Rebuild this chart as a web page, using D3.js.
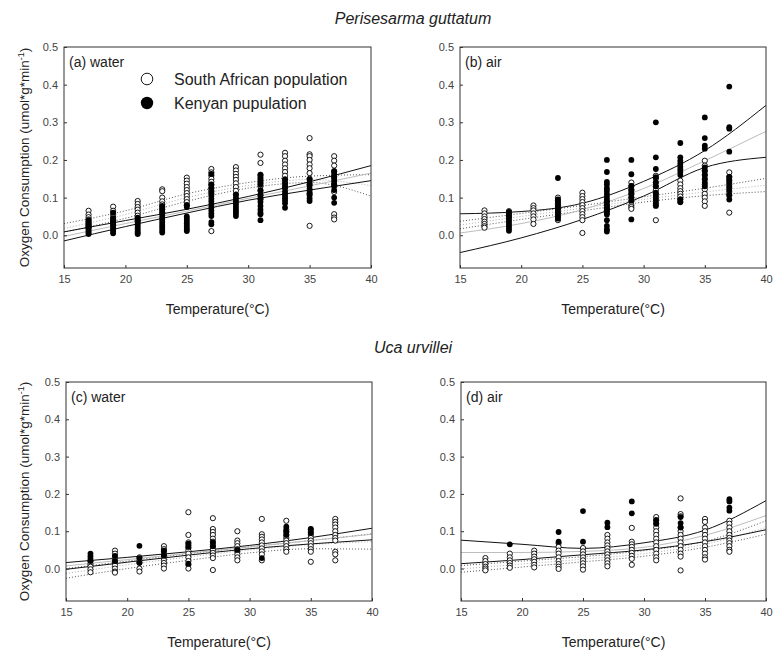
<!DOCTYPE html>
<html>
<head>
<meta charset="utf-8">
<script src="https://cdn.jsdelivr.net/npm/d3@7"></script>
<style>
  body { margin: 0; background: #fff; }
  svg { font-family: "Liberation Sans", Arial, sans-serif; }
</style>
</head>
<body>
<svg id="chart" width="773" height="658"></svg>
<script>
// temperatures where the crabs were measured
const temps = [17, 19, 21, 23, 25, 27, 29, 31, 33, 35, 37];
const xTicks = [15, 20, 25, 30, 35, 40];
const yTicks = [0, 0.1, 0.2, 0.3, 0.4, 0.5];
// x positions for the fitted lines
const lineX = [15, 20, 25, 30, 35, 40];

// (a) Perisesarma guttatum, water
const pgWaterSA = [
  [0.065, 0.055, 0.048, 0.042, 0.036, 0.03, 0.025, 0.02],
  [0.076, 0.065, 0.055, 0.048, 0.042, 0.035, 0.028],
  [0.091, 0.083, 0.075, 0.068, 0.06, 0.052, 0.045, 0.038],
  [0.122, 0.117, 0.1, 0.09, 0.082, 0.075, 0.068, 0.06],
  [0.153, 0.145, 0.137, 0.128, 0.12, 0.112, 0.104, 0.096, 0.088, 0.08],
  [0.176, 0.167, 0.158, 0.15, 0.142, 0.134, 0.126, 0.118, 0.11, 0.011],
  [0.181, 0.172, 0.163, 0.155, 0.147, 0.138, 0.128, 0.118, 0.108],
  [0.214, 0.192, 0.16, 0.15, 0.14, 0.13, 0.118, 0.105, 0.095],
  [0.219, 0.21, 0.198, 0.188, 0.178, 0.168, 0.158, 0.148, 0.138, 0.128],
  [0.258, 0.215, 0.21, 0.2, 0.188, 0.178, 0.165, 0.15, 0.135, 0.11, 0.025],
  [0.21, 0.198, 0.185, 0.17, 0.155, 0.135, 0.115, 0.056, 0.047, 0.042]
];
const pgWaterKE = [
  [0.04, 0.034, 0.03, 0.026, 0.022, 0.018, 0.014, 0.01, 0.006, 0.003],
  [0.06, 0.045, 0.04, 0.035, 0.03, 0.025, 0.02, 0.015, 0.01, 0.005],
  [0.047, 0.04, 0.035, 0.03, 0.025, 0.02, 0.015, 0.01, 0.006, 0.003],
  [0.078, 0.07, 0.062, 0.055, 0.048, 0.042, 0.036, 0.03, 0.024, 0.018, 0.012, 0.007],
  [0.08, 0.075, 0.05, 0.044, 0.038, 0.032, 0.026, 0.02, 0.015, 0.011],
  [0.163, 0.135, 0.125, 0.115, 0.105, 0.097, 0.09, 0.082, 0.074, 0.066, 0.058, 0.051, 0.035, 0.029],
  [0.108, 0.1, 0.094, 0.088, 0.082, 0.076, 0.07, 0.064, 0.058, 0.051],
  [0.161, 0.155, 0.145, 0.135, 0.12, 0.108, 0.098, 0.088, 0.078, 0.068, 0.06, 0.056, 0.04],
  [0.148, 0.14, 0.132, 0.124, 0.116, 0.11, 0.104, 0.098, 0.092, 0.085, 0.073],
  [0.148, 0.14, 0.132, 0.124, 0.118, 0.112, 0.106, 0.098, 0.091],
  [0.17, 0.163, 0.156, 0.15, 0.144, 0.137, 0.13, 0.12, 0.1, 0.086]
];
const pgWaterKEFit = [-0.003, 0.031, 0.064, 0.098, 0.131, 0.165];
const pgWaterKEUp = [0.009, 0.039, 0.069, 0.103, 0.142, 0.185];
const pgWaterKELo = [-0.015, 0.023, 0.059, 0.093, 0.12, 0.145];
const pgWaterSAFit = [0.018, 0.055, 0.1, 0.132, 0.148, 0.132];
const pgWaterSAUp = [0.031, 0.065, 0.11, 0.14, 0.157, 0.161];
const pgWaterSALo = [0.008, 0.045, 0.09, 0.125, 0.14, 0.104];

// (b) Perisesarma guttatum, air
const pgAirSA = [
  [0.066, 0.058, 0.05, 0.043, 0.036, 0.03, 0.024, 0.02],
  [0.064, 0.058, 0.05],
  [0.079, 0.072, 0.066, 0.058, 0.05, 0.042, 0.03],
  [0.1, 0.092, 0.085, 0.078, 0.07, 0.06, 0.05, 0.04],
  [0.113, 0.104, 0.096, 0.088, 0.08, 0.072, 0.064, 0.056, 0.048, 0.04, 0.006],
  [0.09, 0.08, 0.072, 0.066, 0.06],
  [0.14, 0.13, 0.12, 0.11, 0.1, 0.09, 0.08, 0.075, 0.07],
  [0.158, 0.15, 0.14, 0.13, 0.12, 0.11, 0.1, 0.09, 0.08, 0.04],
  [0.145, 0.135, 0.125, 0.117, 0.11, 0.103, 0.095, 0.088],
  [0.198, 0.185, 0.172, 0.16, 0.148, 0.135, 0.122, 0.11, 0.1, 0.09, 0.078],
  [0.167, 0.155, 0.145, 0.135, 0.125, 0.115, 0.105, 0.06]
];
const pgAirKE = [
  [],
  [0.062, 0.055, 0.048, 0.042, 0.036, 0.03, 0.024, 0.018, 0.012],
  [],
  [0.152, 0.095, 0.088, 0.08, 0.072, 0.065, 0.058, 0.05, 0.044],
  [],
  [0.2, 0.168, 0.142, 0.135, 0.125, 0.118, 0.11, 0.102, 0.095, 0.088, 0.08, 0.072, 0.064, 0.055, 0.04, 0.025, 0.016, 0.01],
  [0.2, 0.162, 0.131, 0.122, 0.115, 0.108, 0.1, 0.092, 0.042],
  [0.3, 0.207, 0.176, 0.154, 0.14, 0.13, 0.113, 0.105, 0.095, 0.085, 0.078],
  [0.245, 0.207, 0.198, 0.19, 0.182, 0.175, 0.168, 0.16, 0.095, 0.088],
  [0.313, 0.258, 0.238, 0.23, 0.18, 0.17, 0.16, 0.15, 0.14, 0.13],
  [0.395, 0.287, 0.283, 0.222, 0.155, 0.148, 0.14, 0.13, 0.12, 0.108, 0.095]
];
const pgAirKEFit = [0.006, 0.031, 0.068, 0.124, 0.198, 0.276];
const pgAirKEUp = [0.057, 0.063, 0.085, 0.143, 0.225, 0.345];
const pgAirKELo = [-0.046, -0.007, 0.042, 0.104, 0.18, 0.207];
const pgAirSAFit = [0.027, 0.05, 0.072, 0.095, 0.115, 0.133];
const pgAirSAUp = [0.037, 0.058, 0.079, 0.102, 0.125, 0.151];
const pgAirSALo = [0.017, 0.042, 0.065, 0.088, 0.105, 0.116];

// (c) Uca urvillei, water
const uuWaterSA = [
  [0.02, 0.012, 0.005, -0.002, -0.01],
  [0.048, 0.04, 0.03, 0.022, 0.015, 0.008, 0.0, -0.008, -0.011],
  [0.03, 0.022, 0.015, 0.0, -0.008],
  [0.06, 0.052, 0.045, 0.038, 0.03, 0.022, 0.015, 0.008, 0.0],
  [0.151, 0.09, 0.07, 0.062, 0.055, 0.048, 0.04, 0.03, 0.02, 0.01, 0.0],
  [0.135, 0.106, 0.098, 0.09, 0.08, 0.072, 0.065, 0.058, 0.05, 0.042, 0.035, 0.028, -0.004],
  [0.1, 0.075, 0.068, 0.06, 0.052, 0.045, 0.038, 0.03, 0.022],
  [0.133, 0.092, 0.085, 0.078, 0.07, 0.062, 0.054, 0.046, 0.038, 0.022],
  [0.128, 0.105, 0.098, 0.09, 0.082, 0.075, 0.068, 0.06, 0.052, 0.045],
  [0.105, 0.098, 0.09, 0.082, 0.075, 0.068, 0.06, 0.052, 0.045, 0.018],
  [0.133, 0.125, 0.118, 0.11, 0.1, 0.09, 0.082, 0.075, 0.045, 0.038, 0.022]
];
const uuWaterKE = [
  [0.04, 0.033, 0.026, 0.02],
  [0.034, 0.02],
  [0.061, 0.028, 0.016],
  [0.048, 0.035],
  [0.067, 0.058, 0.013],
  [0.07, 0.06],
  [0.05],
  [0.028],
  [0.112, 0.1, 0.09],
  [0.106, 0.095],
  []
];
const uuWaterKEFit = [0.007, 0.024, 0.041, 0.058, 0.075, 0.092];
const uuWaterKEUp = [0.016, 0.03, 0.045, 0.062, 0.083, 0.108];
const uuWaterKELo = [-0.002, 0.017, 0.036, 0.053, 0.066, 0.077];
const uuWaterSAFit = [-0.013, 0.01, 0.031, 0.05, 0.064, 0.072];
const uuWaterSAUp = [0.0, 0.02, 0.04, 0.058, 0.075, 0.093];
const uuWaterSALo = [-0.026, 0.0, 0.022, 0.042, 0.053, 0.052];

// (d) Uca urvillei, air
const uuAirSA = [
  [0.028, 0.02, 0.012, 0.005, 0.0, -0.005],
  [0.04, 0.03, 0.022, 0.015, 0.008, 0.002],
  [0.048, 0.04, 0.032, 0.025, 0.018, 0.01, 0.003],
  [0.068, 0.058, 0.048, 0.04, 0.03, 0.02, 0.012, 0.005, -0.001],
  [0.055, 0.046, 0.038, 0.03, 0.022, 0.014, 0.006, -0.003],
  [0.09, 0.08, 0.07, 0.062, 0.054, 0.046, 0.038, 0.03, 0.022, 0.014, 0.006],
  [0.109, 0.072, 0.065, 0.058, 0.05, 0.042, 0.034, 0.026, 0.01],
  [0.138, 0.13, 0.12, 0.11, 0.1, 0.09, 0.08, 0.07, 0.06, 0.05, 0.04, 0.03, 0.022],
  [0.188, 0.146, 0.14, 0.11, 0.1, 0.09, 0.08, 0.07, 0.06, 0.05, 0.04, 0.032, -0.005],
  [0.133, 0.125, 0.11, 0.1, 0.09, 0.08, 0.07, 0.06, 0.05, 0.04, 0.03, 0.024],
  [0.128, 0.12, 0.11, 0.1, 0.09, 0.082, 0.075, 0.068, 0.06, 0.05, 0.045]
];
const uuAirKE = [
  [],
  [0.065],
  [],
  [0.098, 0.072],
  [0.154, 0.072],
  [0.123, 0.111],
  [0.18, 0.148],
  [0.129, 0.12],
  [0.138, 0.122, 0.11],
  [],
  [0.186, 0.18, 0.163, 0.155]
];
const uuAirKEFit = [0.043, 0.043, 0.046, 0.057, 0.089, 0.142];
const uuAirKEUp = [0.076, 0.065, 0.054, 0.069, 0.103, 0.182];
const uuAirKELo = [0.013, 0.024, 0.037, 0.05, 0.072, 0.104];
const uuAirSAFit = [-0.001, 0.012, 0.025, 0.04, 0.065, 0.11];
const uuAirSAUp = [0.008, 0.02, 0.032, 0.048, 0.073, 0.128];
const uuAirSALo = [-0.01, 0.004, 0.018, 0.033, 0.057, 0.092];

const svg = d3.select('#chart');
svg.append('rect').attr('width', 773).attr('height', 658).style('fill', '#fff');

const panels = [
  { label: '(a) water', left: 64, right: 371, top: 47, bottom: 268, sa: pgWaterSA, ke: pgWaterKE,
    keLines: [pgWaterKEFit, pgWaterKEUp, pgWaterKELo], saLines: [pgWaterSAFit, pgWaterSAUp, pgWaterSALo], yLabel: true, legend: true },
  { label: '(b) air', left: 460, right: 766, top: 47, bottom: 268, sa: pgAirSA, ke: pgAirKE,
    keLines: [pgAirKEFit, pgAirKEUp, pgAirKELo], saLines: [pgAirSAFit, pgAirSAUp, pgAirSALo] },
  { label: '(c) water', left: 66, right: 372, top: 382, bottom: 601, sa: uuWaterSA, ke: uuWaterKE,
    keLines: [uuWaterKEFit, uuWaterKEUp, uuWaterKELo], saLines: [uuWaterSAFit, uuWaterSAUp, uuWaterSALo], yLabel: true },
  { label: '(d) air', left: 461, right: 766, top: 382, bottom: 601, sa: uuAirSA, ke: uuAirKE,
    keLines: [uuAirKEFit, uuAirKEUp, uuAirKELo], saLines: [uuAirSAFit, uuAirSAUp, uuAirSALo] }
];

function drawPanel(p, idx) {
  const x = d3.scaleLinear().domain([15, 40]).range([p.left, p.right]);
  const y = d3.scaleLinear().domain([-0.087, 0.5]).range([p.bottom, p.top]);
  const g = svg.append('g').attr('class', 'panel');

  g.append('clipPath').attr('id', `clip-${idx}`)
    .append('rect')
    .attr('x', p.left).attr('y', p.top)
    .attr('width', p.right - p.left).attr('height', p.bottom - p.top);

  const line = d3.line()
    .x((d, i) => x(lineX[i]))
    .y((d) => y(d))
    .curve(d3.curveMonotoneX);

  const lines = g.append('g').attr('clip-path', `url(#clip-${idx})`);
  // South African fits: dotted
  lines.append('path').attr('d', line(p.saLines[0]))
    .style('fill', 'none').style('stroke', '#b0b0b0').style('stroke-width', 1).style('stroke-dasharray', '1,2');
  p.saLines.slice(1).forEach((l) => {
    lines.append('path').attr('d', line(l))
      .style('fill', 'none').style('stroke', '#555').style('stroke-width', 1).style('stroke-dasharray', '1,2');
  });
  // Kenyan fits: solid
  lines.append('path').attr('d', line(p.keLines[0]))
    .style('fill', 'none').style('stroke', '#bdbdbd').style('stroke-width', 1);
  p.keLines.slice(1).forEach((l) => {
    lines.append('path').attr('d', line(l))
      .style('fill', 'none').style('stroke', '#111').style('stroke-width', 1);
  });

  const saPts = [];
  p.sa.forEach((vals, i) => vals.forEach((v) => saPts.push([temps[i], v])));
  const kePts = [];
  p.ke.forEach((vals, i) => vals.forEach((v) => kePts.push([temps[i], v])));

  g.append('g').selectAll('circle')
    .data(saPts)
    .enter()
    .append('circle')
    .attr('cx', (d) => x(d[0]))
    .attr('cy', (d) => y(d[1]))
    .attr('r', 2.6)
    .style('fill', '#fff')
    .style('stroke', '#000')
    .style('stroke-width', 0.9);

  g.append('g').selectAll('circle')
    .data(kePts)
    .enter()
    .append('circle')
    .attr('cx', (d) => x(d[0]))
    .attr('cy', (d) => y(d[1]))
    .attr('r', 2.9)
    .style('fill', '#000');

  // frame
  g.append('rect')
    .attr('x', p.left).attr('y', p.top)
    .attr('width', p.right - p.left).attr('height', p.bottom - p.top)
    .style('fill', 'none').style('stroke', '#333').style('stroke-width', 1);

  const xAxis = g.append('g')
    .attr('transform', `translate(0, ${p.bottom})`)
    .call(d3.axisBottom(x).tickValues(xTicks).tickFormat(d3.format('d'))
      .tickSizeInner(-3).tickSizeOuter(0).tickPadding(7));
  const yAxis = g.append('g')
    .attr('transform', `translate(${p.left}, 0)`)
    .call(d3.axisLeft(y).tickValues(yTicks).tickFormat(d3.format('.1f'))
      .tickSizeInner(-3).tickSizeOuter(0).tickPadding(6));
  [xAxis, yAxis].forEach((a) => {
    a.select('.domain').remove();
    a.selectAll('line').style('stroke', '#333');
    a.selectAll('text').style('font-size', '11px').style('fill', '#444')
      .style('font-family', '"Liberation Sans", Arial, sans-serif');
  });

  g.append('text')
    .attr('x', p.left + 5).attr('y', p.top + 20)
    .text(p.label)
    .style('font-size', '14px').style('fill', '#222');

  g.append('text')
    .attr('x', (p.left + p.right) / 2).attr('y', p.bottom + 46)
    .attr('text-anchor', 'middle')
    .text('Temperature(°C)')
    .style('font-size', '14px').style('fill', '#222');

  if (p.yLabel) {
    const t = g.append('text')
      .attr('transform', `translate(29, ${(p.top + p.bottom) / 2}) rotate(-90)`)
      .attr('text-anchor', 'middle')
      .style('font-size', '13.5px').style('fill', '#222');
    t.append('tspan').text('Oxygen Consumption (umol*g*min');
    t.append('tspan').text('-1').attr('dy', -5).style('font-size', '9px');
    t.append('tspan').text(')').attr('dy', 5);
  }

  if (p.legend) {
    const lg = g.append('g');
    lg.append('circle').attr('cx', 147).attr('cy', 79).attr('r', 5.8)
      .style('fill', '#fff').style('stroke', '#000').style('stroke-width', 0.9);
    lg.append('circle').attr('cx', 147).attr('cy', 103).attr('r', 6.2)
      .style('fill', '#000');
    lg.append('text').attr('x', 174).attr('y', 85).text('South African population')
      .style('font-size', '16px').style('fill', '#222');
    lg.append('text').attr('x', 174).attr('y', 109).text('Kenyan pupulation')
      .style('font-size', '16px').style('fill', '#222');
  }
}

panels.forEach(drawPanel);

svg.append('text')
  .attr('x', 413).attr('y', 24)
  .attr('text-anchor', 'middle')
  .style('font-size', '16px').style('font-style', 'italic').style('fill', '#222')
  .text('Perisesarma guttatum');
svg.append('text')
  .attr('x', 413).attr('y', 353)
  .attr('text-anchor', 'middle')
  .style('font-size', '16px').style('font-style', 'italic').style('fill', '#222')
  .text('Uca urvillei');
</script>
</body>
</html>
